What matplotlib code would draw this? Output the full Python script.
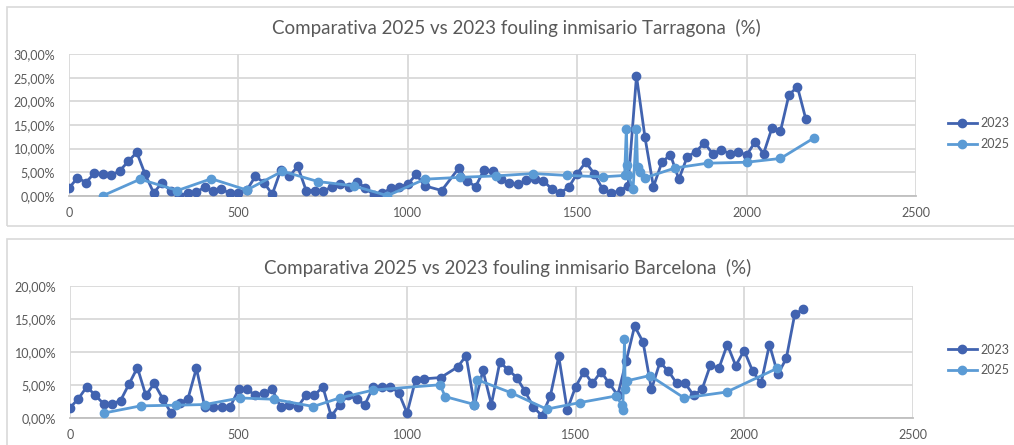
import matplotlib
matplotlib.use("Agg")
import matplotlib.pyplot as plt
from matplotlib.patches import Rectangle
from matplotlib.ticker import FuncFormatter, MultipleLocator

plt.rcParams['font.family'] = ['Lato', 'DejaVu Sans']

# Tarragona, 2023 campaign
tar23_x = [0, 25, 50, 75, 100, 125, 150, 175, 200, 225,
           250, 275, 300, 325, 350, 375, 400, 425, 450, 475,
           500, 525, 550, 575, 600, 625, 650, 675, 700, 725,
           750, 775, 800, 825, 850, 875, 900, 925, 950, 975,
           1000, 1025, 1050, 1100, 1150, 1175, 1200, 1225, 1250, 1275,
           1300, 1325, 1350, 1375, 1400, 1425, 1450, 1475, 1500, 1525,
           1550, 1575, 1600, 1625, 1650, 1675, 1700, 1725, 1750, 1775,
           1800, 1825, 1850, 1875, 1900, 1925, 1950, 1975, 2000, 2025,
           2050, 2075, 2100, 2125, 2150, 2175]
tar23_y = [1.6, 3.8, 2.8, 4.8, 4.6, 4.3, 5.3, 7.3, 9.2, 4.5,
           0.6, 2.8, 1.0, 0.0, 0.6, 0.7, 1.8, 1.0, 1.4, 0.5,
           0.5, 1.2, 4.1, 2.8, 0.3, 5.4, 4.1, 6.2, 1.1, 1.1,
           1.0, 1.8, 2.5, 1.9, 3.0, 1.6, 0.1, 0.5, 1.6, 1.8,
           2.5, 4.5, 2.1, 1.1, 5.8, 3.2, 1.9, 5.5, 5.2, 3.5,
           2.6, 2.4, 3.3, 3.5, 3.2, 1.4, 0.6, 1.8, 4.7, 7.1,
           4.7, 1.4, 0.6, 1.0, 2.1, 25.4, 12.4, 1.9, 7.1, 8.7,
           3.5, 8.3, 9.3, 11.2, 8.9, 9.8, 8.9, 9.3, 8.6, 11.4,
           8.9, 14.4, 13.7, 21.4, 23.1, 16.2]

# Tarragona, 2025 campaign
tar25_x = [100, 210, 320, 420, 525, 630, 735, 840, 940, 1050,
           1155, 1260, 1370, 1470, 1575, 1640, 1645, 1648, 1650, 1665,
           1675, 1678, 1685, 1700, 1790, 1885, 2000, 2100, 2200]
tar25_y = [0.0, 3.5, 1.1, 3.6, 1.2, 5.2, 3.0, 2.1, 0.0, 3.5,
           3.9, 4.2, 4.7, 4.3, 4.0, 4.3, 14.2, 6.6, 4.4, 1.5,
           14.2, 6.0, 5.0, 3.8, 5.9, 6.9, 7.1, 7.9, 12.3]

# Barcelona, 2023 campaign
bcn23_x = [0, 25, 50, 75, 100, 125, 150, 175, 200, 225,
           250, 275, 300, 325, 350, 375, 400, 425, 450, 475,
           500, 525, 550, 575, 600, 625, 650, 675, 700, 725,
           750, 775, 800, 825, 850, 875, 900, 925, 950, 975,
           1000, 1025, 1050, 1100, 1150, 1175, 1200, 1225, 1250, 1275,
           1300, 1325, 1350, 1375, 1400, 1425, 1450, 1475, 1500, 1525,
           1550, 1575, 1600, 1625, 1650, 1675, 1700, 1725, 1750, 1775,
           1800, 1825, 1850, 1875, 1900, 1925, 1950, 1975, 2000, 2025,
           2050, 2075, 2100, 2125, 2150, 2175]
bcn23_y = [1.5, 2.9, 4.7, 3.4, 2.1, 2.1, 2.6, 5.1, 7.6, 3.4,
           5.2, 2.9, 0.7, 2.2, 2.9, 7.5, 1.6, 1.6, 1.6, 1.6,
           4.3, 4.3, 3.4, 3.8, 4.3, 1.6, 2.0, 1.6, 3.4, 3.4,
           4.7, 0.2, 2.0, 3.4, 2.8, 2.0, 4.7, 4.7, 4.7, 3.8,
           0.7, 5.7, 5.9, 6.1, 7.7, 9.4, 1.9, 7.2, 2.0, 8.4,
           7.3, 6.1, 4.0, 1.6, 0.3, 3.3, 9.3, 1.2, 4.7, 7.0,
           5.2, 7.0, 5.2, 3.4, 8.6, 13.9, 11.5, 4.3, 8.4, 7.1,
           5.2, 5.2, 3.4, 4.3, 8.0, 7.5, 11.1, 7.9, 10.2, 7.1,
           5.2, 11.1, 6.6, 9.0, 15.7, 16.5]

# Barcelona, 2025 campaign
bcn25_x = [100, 210, 315, 400, 505, 605, 722, 800, 900, 1098,
           1113, 1200, 1206, 1308, 1414, 1513, 1620, 1638, 1640, 1645,
           1647, 1652, 1720, 1822, 1948, 2098]
bcn25_y = [0.7, 1.8, 1.9, 2.0, 3.0, 2.8, 1.7, 3.0, 4.2, 5.0,
           3.2, 2.0, 5.8, 3.8, 1.3, 2.3, 3.3, 1.9, 1.2, 12.0,
           4.4, 5.6, 6.4, 3.0, 3.9, 7.5]

titles = ["Comparativa 2025 vs 2023 fouling inmisario Tarragona  (%)",
          "Comparativa 2025 vs 2023 fouling inmisario Barcelona  (%)"]

c23 = '#4163B0'
c25 = '#5B9BD5'
txt = '#595959'
grid = '#D9D9D9'

W, H = 1014, 445
fig = plt.figure(figsize=(W / 100, H / 100), dpi=100)

# chart frames
for y0, y1 in [(7, 226), (239, 460)]:
    fig.patches.append(Rectangle((7 / W, 1 - y1 / H), 1.2, (y1 - y0) / H,
                                 transform=fig.transFigure, fill=False,
                                 ec=grid, lw=1.2))

# axes boxes in pixels: left, top, right, bottom
boxes = [(69, 54.3, 916, 195.7), (70, 286, 912.7, 417.7)]
ymaxes = [30, 20]
title_pos = [(516, 28), (508, 268)]
leg_y = [133.5, 360]
data = [(tar23_x, tar23_y, tar25_x, tar25_y),
        (bcn23_x, bcn23_y, bcn25_x, bcn25_y)]

pct = FuncFormatter(lambda v, p: ('%.2f%%' % v).replace('.', ','))

for k in range(2):
    l, t, r, b = boxes[k]
    ax = fig.add_axes([l / W, 1 - b / H, (r - l) / W, (b - t) / H])
    x23, y23, x25, y25 = data[k]
    h1, = ax.plot(x23, y23, color=c23, lw=2, marker='o', ms=6, zorder=3)
    h2, = ax.plot(x25, y25, color=c25, lw=2, marker='o', ms=6, zorder=3)
    ax.set_xlim(0, 2500)
    ax.set_ylim(0, ymaxes[k])
    ax.xaxis.set_major_locator(MultipleLocator(500))
    ax.yaxis.set_major_locator(MultipleLocator(5))
    ax.yaxis.set_major_formatter(pct)
    ax.grid(True, color=grid, lw=1.3, zorder=0)
    for s in ['top', 'right', 'left']:
        ax.spines[s].set_visible(False)
    ax.spines['bottom'].set_color('#BFBFBF')
    ax.spines['bottom'].set_linewidth(1.3)
    ax.tick_params(length=0, labelsize=9, labelcolor=txt)
    ax.tick_params(axis='y', pad=10)
    ax.tick_params(axis='x', pad=8)
    ax.set_axisbelow(True)

    fig.text(title_pos[k][0] / W, 1 - title_pos[k][1] / H, titles[k],
             ha='center', va='center', fontsize=13.5, color=txt)
    fig.legend([h1, h2], ['2023', '2025'], loc='center left',
               bbox_to_anchor=(948 / W, 1 - leg_y[k] / H), frameon=False,
               fontsize=9, labelcolor=txt, handlelength=2.3,
               handletextpad=0.3, labelspacing=0.7, borderpad=0,
               borderaxespad=0)

fig.savefig('out.png', dpi=100)
